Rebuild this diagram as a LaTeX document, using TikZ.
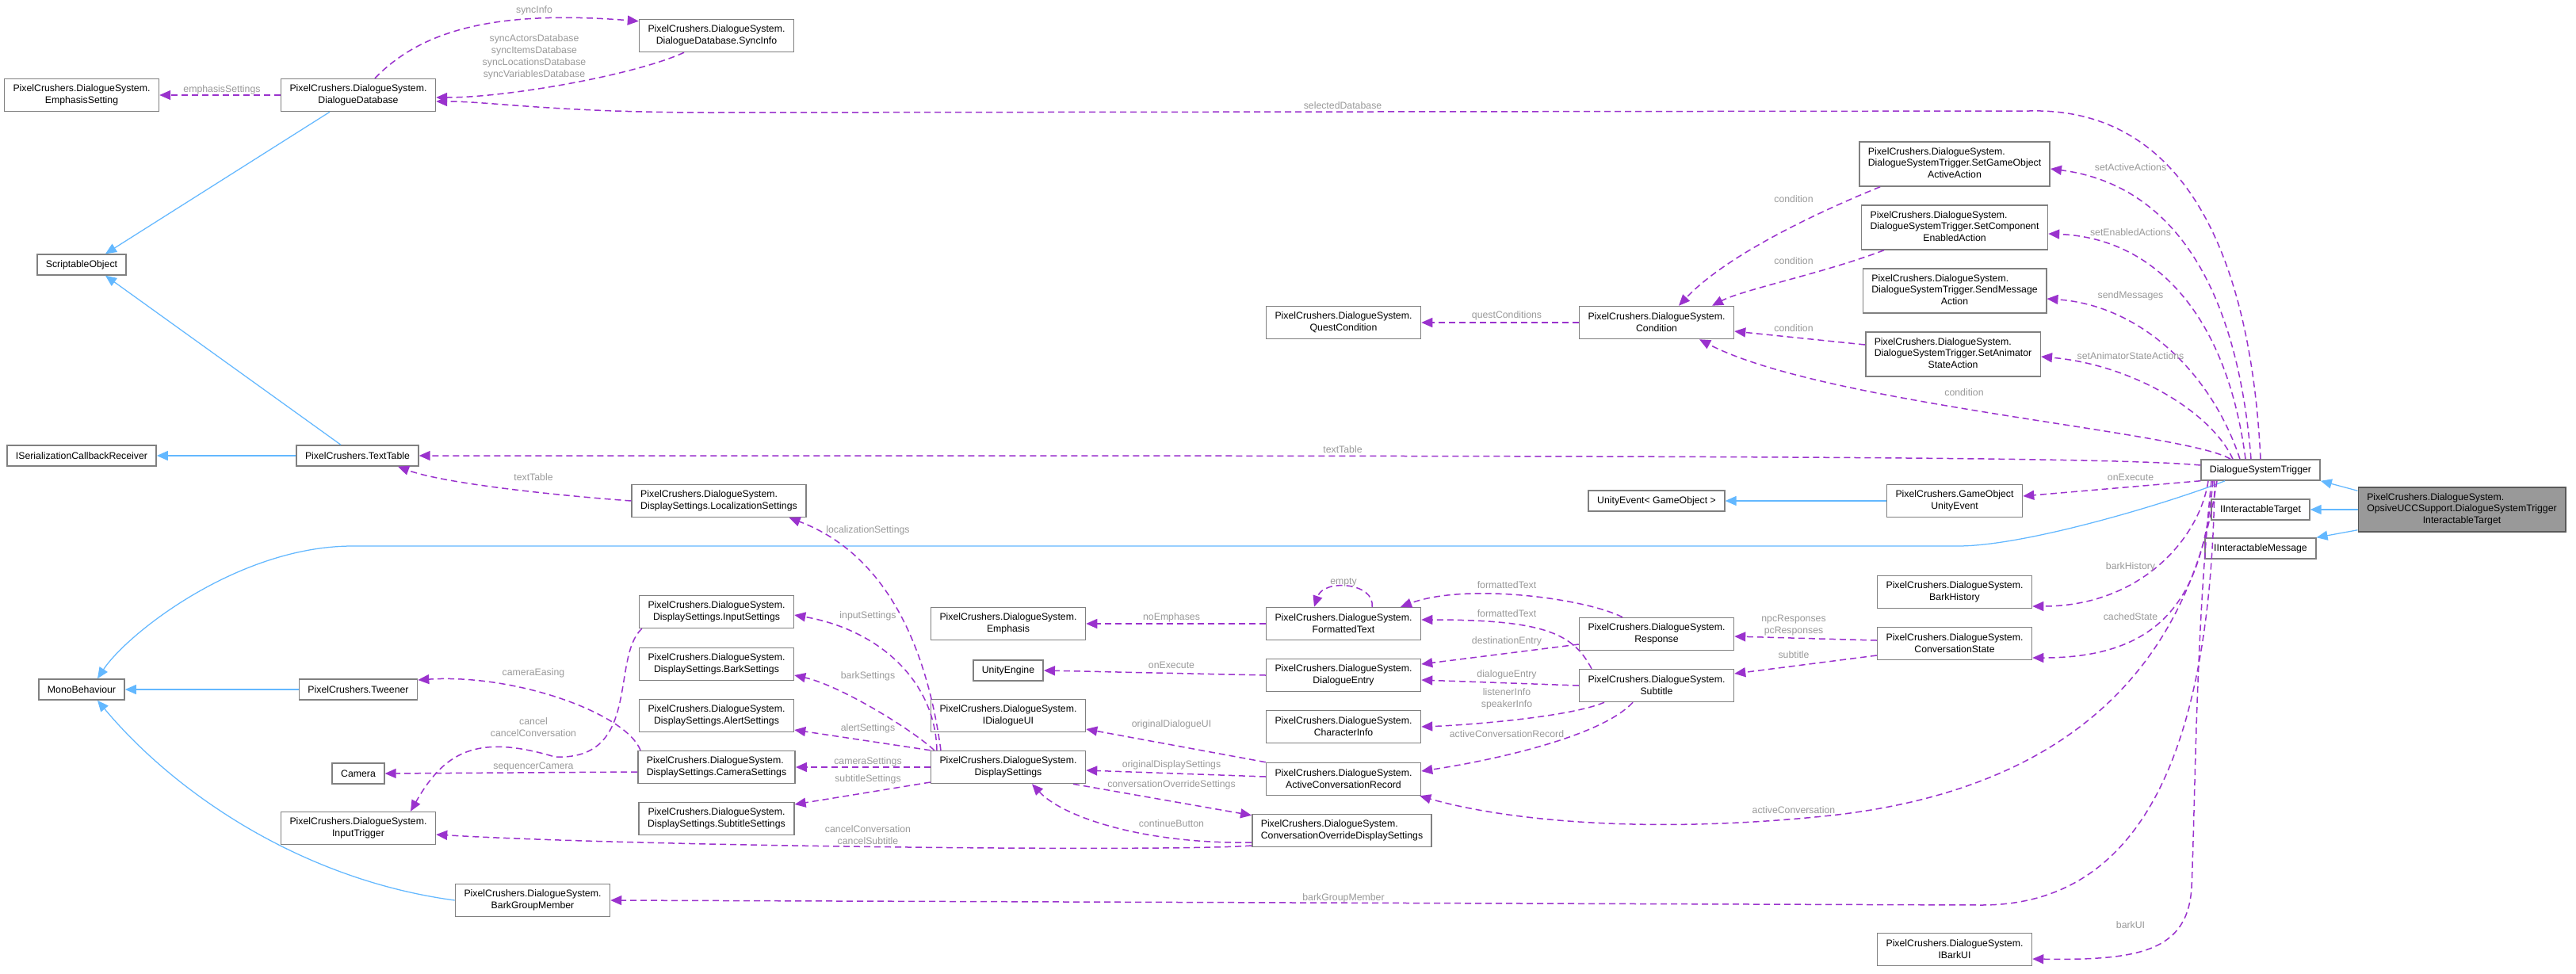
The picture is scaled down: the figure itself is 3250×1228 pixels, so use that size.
\documentclass[tikz,border=0pt]{standalone}
\usepackage{fontspec}
\setmainfont{Liberation Sans}
\usepackage{xcolor}
\usetikzlibrary{arrows.meta,positioning}
\definecolor{dsviolet}{HTML}{9A32CD}
\definecolor{dsblue}{HTML}{63B8FF}
\newcommand{\tripleline}[3]{\begin{tabular}{@{}l@{}}#1\\#2\\\multicolumn{1}{@{}c@{}}{#3}\end{tabular}}

\begin{document}
\begin{tikzpicture}[
  x=0.2mm, y=-0.2mm,
  cls/.style={draw=black!50, fill=white, line width=0.3mm, inner xsep=2.2mm, inner ysep=1mm, minimum height=5.2mm, align=center, font=\fontsize{7}{8.5}\selectfont},
  two/.style={minimum height=8.2mm},
  three/.style={minimum height=11.2mm},
  hl/.style={cls, fill=black!40, draw=black!65},
  dep/.style={draw=dsviolet, line width=0.3mm, dash pattern=on 1.6mm off 1mm, -{Triangle[length=2.8mm,width=2.4mm]}},
  inh/.style={draw=dsblue, line width=0.25mm, -{Triangle[length=2.8mm,width=2.4mm]}},
  lbl/.style={text=black!40, font=\fontsize{7}{8.5}\selectfont, align=center, inner sep=0}
]
\fill[white] (0,0) rectangle (3250,1228);
\useasboundingbox (0,0) rectangle (3250,1228);
% classes
\node[cls,two] (emphset) at (103,120) {PixelCrushers.DialogueSystem.\\EmphasisSetting};
\node[cls,two] (ddb) at (452,120) {PixelCrushers.DialogueSystem.\\DialogueDatabase};
\node[cls,two] (syncinfo) at (904,45) {PixelCrushers.DialogueSystem.\\DialogueDatabase.SyncInfo};
\node[cls] (scrobj) at (103,334) {ScriptableObject};
\node[cls] (iscr) at (103,575) {ISerializationCallbackReceiver};
\node[cls] (texttable) at (451,575) {PixelCrushers.TextTable};
\node[cls] (monob) at (103,870) {MonoBehaviour};
\node[cls] (tweener) at (452,870) {PixelCrushers.Tweener};
\node[cls] (camera) at (452,976) {Camera};
\node[cls,two] (inputtrig) at (452,1045) {PixelCrushers.DialogueSystem.\\InputTrigger};
\node[cls,two] (barkgm) at (672,1136) {PixelCrushers.DialogueSystem.\\BarkGroupMember};
\node[cls,two,align=left] (locset) at (907,632) {PixelCrushers.DialogueSystem.\\DisplaySettings.LocalizationSettings};
\node[cls,two] (inputset) at (904,772) {PixelCrushers.DialogueSystem.\\DisplaySettings.InputSettings};
\node[cls,two] (barkset) at (904,838) {PixelCrushers.DialogueSystem.\\DisplaySettings.BarkSettings};
\node[cls,two] (alertset) at (904,903) {PixelCrushers.DialogueSystem.\\DisplaySettings.AlertSettings};
\node[cls,two,align=left] (camset) at (904,968) {PixelCrushers.DialogueSystem.\\DisplaySettings.CameraSettings};
\node[cls,two] (subset) at (904,1033) {PixelCrushers.DialogueSystem.\\DisplaySettings.SubtitleSettings};
\node[cls,two] (emphasis) at (1272,787) {PixelCrushers.DialogueSystem.\\Emphasis};
\node[cls] (unityeng) at (1272,846) {UnityEngine};
\node[cls,two] (idlgui) at (1272,903) {PixelCrushers.DialogueSystem.\\IDialogueUI};
\node[cls,two] (dispset) at (1272,968) {PixelCrushers.DialogueSystem.\\DisplaySettings};
\node[cls,two] (questcond) at (1695,407) {PixelCrushers.DialogueSystem.\\QuestCondition};
\node[cls,two] (fmttext) at (1695,787) {PixelCrushers.DialogueSystem.\\FormattedText};
\node[cls,two] (dlgentry) at (1695,852) {PixelCrushers.DialogueSystem.\\DialogueEntry};
\node[cls,two] (charinfo) at (1695,917) {PixelCrushers.DialogueSystem.\\CharacterInfo};
\node[cls,two] (acr) at (1695,983) {PixelCrushers.DialogueSystem.\\ActiveConversationRecord};
\node[cls,two,align=left] (cods) at (1693,1048) {PixelCrushers.DialogueSystem.\\ConversationOverrideDisplaySettings};
\node[cls,two] (condition) at (2090,407) {PixelCrushers.DialogueSystem.\\Condition};
\node[cls] (unityevgo) at (2090,632) {UnityEvent< GameObject >};
\node[cls,two] (response) at (2090,800) {PixelCrushers.DialogueSystem.\\Response};
\node[cls,two] (subtitle) at (2090,865) {PixelCrushers.DialogueSystem.\\Subtitle};
\node[cls,three] (sgoa) at (2466,207) {\tripleline{PixelCrushers.DialogueSystem.}{DialogueSystemTrigger.SetGameObject}{ActiveAction}};
\node[cls,three] (scea) at (2466,287) {\tripleline{PixelCrushers.DialogueSystem.}{DialogueSystemTrigger.SetComponent}{EnabledAction}};
\node[cls,three] (sma) at (2466,367) {\tripleline{PixelCrushers.DialogueSystem.}{DialogueSystemTrigger.SendMessage}{Action}};
\node[cls,three] (sasa) at (2464,447) {\tripleline{PixelCrushers.DialogueSystem.}{DialogueSystemTrigger.SetAnimator}{StateAction}};
\node[cls,two] (gouev) at (2466,632) {PixelCrushers.GameObject\\UnityEvent};
\node[cls,two] (barkhist) at (2466,747) {PixelCrushers.DialogueSystem.\\BarkHistory};
\node[cls,two] (convstate) at (2466,812) {PixelCrushers.DialogueSystem.\\ConversationState};
\node[cls,two] (ibarkui) at (2466,1198) {PixelCrushers.DialogueSystem.\\IBarkUI};
\node[cls] (dst) at (2852,593) {DialogueSystemTrigger};
\node[cls] (iitarget) at (2852,643) {IInteractableTarget};
\node[cls] (iimsg) at (2852,692) {IInteractableMessage};
\node[hl,three] (main) at (3106,643) {\tripleline{PixelCrushers.DialogueSystem.}{OpsiveUCCSupport.DialogueSystemTrigger}{InteractableTarget}};
% inheritance
\draw[inh] ([xshift=-7.2mm]ddb.south) -- ([xshift=6mm]scrobj.north);
\draw[inh] ([xshift=-4.2mm]texttable.north) -- ([xshift=6mm]scrobj.south);
\draw[inh] (texttable.west) -- (iscr.east);
\draw[inh] (tweener.west) -- (monob.east);
\draw[inh] (barkgm.west) .. controls (380,1110) and (220,1000) .. ([xshift=4mm]monob.south);
\draw[inh] ([xshift=-9mm]dst.south) .. controls (2750,630) and (2560,689) .. (2470,689) -- (445,689) .. controls (300,689) and (160,800) .. ([xshift=4mm]monob.north);
\draw[inh] (gouev.west) -- (unityevgo.east);
\draw[inh] ([yshift=-1mm]main.north west) -- (dst.south east);
\draw[inh] (main.west) -- (iitarget.east);
\draw[inh] ([yshift=0.6mm]main.south west) -- (iimsg.north east);
% members
\draw[dep] (ddb.west) -- (emphset.east);
\draw[dep] ([xshift=4.2mm]ddb.north) .. controls (530,40) and (620,12) .. ([yshift=-0.6mm]syncinfo.north west);
\draw[dep] ([xshift=-8.2mm]syncinfo.south) .. controls (800,95) and (640,123) .. ([yshift=-0.6mm]ddb.east);
\draw[dep] (dst.north) .. controls (2840,330) and (2760,135) .. (2560,140) -- (900,142) .. controls (700,142) and (620,128) .. ([yshift=-1.6mm]ddb.east);
\draw[dep] ([xshift=-2.4mm]dst.north) .. controls (2820,330) and (2720,230) .. ([yshift=-1.2mm]sgoa.east);
\draw[dep] ([xshift=-3.8mm]dst.north) .. controls (2810,400) and (2720,300) .. ([yshift=-1.6mm]scea.east);
\draw[dep] ([xshift=-5.2mm]dst.north) .. controls (2790,470) and (2700,385) .. ([yshift=-2mm]sma.east);
\draw[dep] ([xshift=-7mm]dst.north) .. controls (2790,520) and (2690,460) .. ([yshift=-0.6mm]sasa.east);
\draw[dep] ([xshift=-7.6mm]dst.north) .. controls (2760,545) and (2300,510) .. ([xshift=10.8mm]condition.south);
\draw[dep] ([xshift=5.4mm]sgoa.south west) .. controls (2300,265) and (2180,320) .. ([xshift=5.6mm]condition.north);
\draw[dep] ([xshift=5.8mm]scea.south west) .. controls (2300,345) and (2200,365) .. ([xshift=14mm]condition.north);
\draw[dep] ([yshift=2.4mm]sasa.west) -- ([yshift=-2.2mm]condition.east);
\draw[dep] (condition.west) -- (questcond.east);
\draw[dep] ([yshift=1.2mm]dst.west) .. controls (2650,575) and (2000,575) .. (texttable.east);
\draw[dep] (locset.west) .. controls (700,625) and (560,610) .. ([xshift=10.2mm]texttable.south);
\draw[dep] (dst.south west) -- ([yshift=1.2mm]gouev.east);
\draw[dep] ([xshift=-13.2mm]dst.south) .. controls (2775,680) and (2700,765) .. ([yshift=-3.6mm]barkhist.east);
\draw[dep] ([xshift=-12mm]dst.south) .. controls (2780,740) and (2740,830) .. ([yshift=-3.6mm]convstate.east);
\draw[dep] ([xshift=-11mm]dst.south) .. controls (2760,850) and (2600,1000) .. (2300,1030) .. controls (2050,1055) and (1880,1030) .. ([xshift=-0.4mm]acr.south east);
\draw[dep] ([xshift=-11.6mm]dst.south) .. controls (2790,950) and (2700,1142) .. (2500,1142) -- (barkgm.east);
\draw[dep] ([xshift=-12.4mm]dst.south) .. controls (2770,800) and (2770,1000) .. (2765,1120) .. controls (2760,1200) and (2700,1212) .. ([yshift=-2.4mm]ibarkui.east);
\draw[dep] ([xshift=-17mm]dispset.north) .. controls (1170,820) and (1120,700) .. ([xshift=-4.4mm]locset.south east);
\draw[dep] ([xshift=-18mm]dispset.north) .. controls (1180,860) and (1110,795) .. ([yshift=-0.8mm]inputset.east);
\draw[dep] ([xshift=1mm]dispset.north west) .. controls (1150,920) and (1060,865) .. ([yshift=-2.8mm]barkset.east);
\draw[dep] (dispset.north west) -- ([yshift=-3.6mm]alertset.east);
\draw[dep] (dispset.west) -- (camset.east);
\draw[dep] ([yshift=-3.8mm]dispset.west) -- ([yshift=3.6mm]subset.east);
\draw[dep] ([xshift=0.8mm]camset.north west) .. controls (790,900) and (650,850) .. ([yshift=2.4mm]tweener.east);
\draw[dep] ([yshift=-1.2mm]camset.west) -- (camera.east);
\draw[dep] ([xshift=0.8mm]inputset.south west) .. controls (770,830) and (810,960) .. (700,955) .. controls (600,925) and (560,950) .. ([xshift=13.2mm]inputtrig.north);
\draw[dep] ([yshift=-3.8mm]cods.west) .. controls (1480,1075) and (800,1068) .. ([yshift=-1.6mm]inputtrig.east);
\draw[dep] ([yshift=-3mm]cods.west) .. controls (1440,1065) and (1340,1030) .. ([xshift=6mm]dispset.south);
\draw[dep] ([xshift=16.4mm]dispset.south) -- ([yshift=-0.4mm]cods.north west);
\draw[dep] ([yshift=0.6mm]acr.west) -- ([yshift=-0.8mm]dispset.east);
\draw[dep] (acr.north west) -- ([yshift=-3.4mm]idlgui.east);
\draw[dep] (fmttext.west) -- (emphasis.east);
\draw[dep] ([xshift=7.2mm]fmttext.north) .. controls (1735,735) and (1670,730) .. ([xshift=-7.4mm]fmttext.north);
\draw[dep] ([xshift=-8.6mm]response.north) .. controls (2000,755) and (1850,735) .. ([xshift=14.4mm]fmttext.north);
\draw[dep] ([xshift=-16.4mm]subtitle.north) .. controls (1985,800) and (1950,782) .. ([yshift=1mm]fmttext.east);
\draw[dep] ([yshift=-2.6mm]response.west) -- ([yshift=2.8mm]dlgentry.east);
\draw[dep] (subtitle.west) -- ([yshift=-1.2mm]dlgentry.east);
\draw[dep] ([xshift=-13.2mm]subtitle.south) .. controls (1980,905) and (1850,915) .. (charinfo.east);
\draw[dep] ([xshift=-6mm]subtitle.south) .. controls (2020,930) and (1880,960) .. ([yshift=2mm]acr.east);
\draw[dep] (dlgentry.west) -- (unityeng.east);
\draw[dep] ([yshift=0.8mm]convstate.west) -- ([yshift=-0.6mm]response.east);
\draw[dep] ([yshift=-3mm]convstate.west) -- ([yshift=3mm]subtitle.east);
% labels
\node[lbl] (lsyncinfo) at (674,13) {syncInfo};
\node[lbl] (lsyncdb) at (674,72) {syncActorsDatabase\\syncItemsDatabase\\syncLocationsDatabase\\syncVariablesDatabase};
\node[lbl] (lemphset) at (280,113) {emphasisSettings};
\node[lbl] (lseldb) at (1694,133) {selectedDatabase};
\node[lbl] (lquest) at (1901,398) {questConditions};
\node[lbl] (lcond1) at (2263,251) {condition};
\node[lbl] (lcond2) at (2263,329) {condition};
\node[lbl] (lcond3) at (2263,414) {condition};
\node[lbl] (lcond4) at (2478,495) {condition};
\node[lbl] (lsetactive) at (2688,211) {setActiveActions};
\node[lbl] (lsetenabled) at (2688,293) {setEnabledActions};
\node[lbl] (lsendmsg) at (2688,373) {sendMessages};
\node[lbl] (lsetanim) at (2688,449) {setAnimatorStateActions};
\node[lbl] (ltexttable1) at (1694,567) {textTable};
\node[lbl] (ltexttable2) at (673,602) {textTable};
\node[lbl] (lonexec1) at (2688,602) {onExecute};
\node[lbl] (llocset) at (1095,669) {localizationSettings};
\node[lbl] (lbarkhist) at (2688,715) {barkHistory};
\node[lbl] (lcached) at (2688,778) {cachedState};
\node[lbl] (lbarkui) at (2688,1167) {barkUI};
\node[lbl] (lempty) at (1695,735) {empty};
\node[lbl] (lfmt1) at (1901,738) {formattedText};
\node[lbl] (lfmt2) at (1901,774) {formattedText};
\node[lbl] (lresp) at (2263,789) {npcResponses\\pcResponses};
\node[lbl] (linputset) at (1095,777) {inputSettings};
\node[lbl] (lnoemph) at (1478,779) {noEmphases};
\node[lbl] (ldest) at (1901,809) {destinationEntry};
\node[lbl] (lsubtitle) at (2263,826) {subtitle};
\node[lbl] (lonexec2) at (1478,839) {onExecute};
\node[lbl] (lcameasing) at (673,849) {cameraEasing};
\node[lbl] (ldlgentry) at (1901,851) {dialogueEntry};
\node[lbl] (lbarkset) at (1095,853) {barkSettings};
\node[lbl] (lspeaker) at (1901,882) {listenerInfo\\speakerInfo};
\node[lbl] (lcancel) at (673,918) {cancel\\cancelConversation};
\node[lbl] (lorigui) at (1478,914) {originalDialogueUI};
\node[lbl] (lalertset) at (1095,919) {alertSettings};
\node[lbl] (lacrec) at (1901,926) {activeConversationRecord};
\node[lbl] (lcamset) at (1095,961) {cameraSettings};
\node[lbl] (lorigds) at (1478,965) {originalDisplaySettings};
\node[lbl] (lseqcam) at (673,967) {sequencerCamera};
\node[lbl] (lsubset) at (1095,983) {subtitleSettings};
\node[lbl] (lconvover) at (1478,990) {conversationOverrideSettings};
\node[lbl] (lactconv) at (2263,1022) {activeConversation};
\node[lbl] (lcontbtn) at (1478,1039) {continueButton};
\node[lbl] (lcancelsub) at (1095,1054) {cancelConversation\\cancelSubtitle};
\node[lbl] (lbarkgm) at (1695,1133) {barkGroupMember};
\end{tikzpicture}
\end{document}
